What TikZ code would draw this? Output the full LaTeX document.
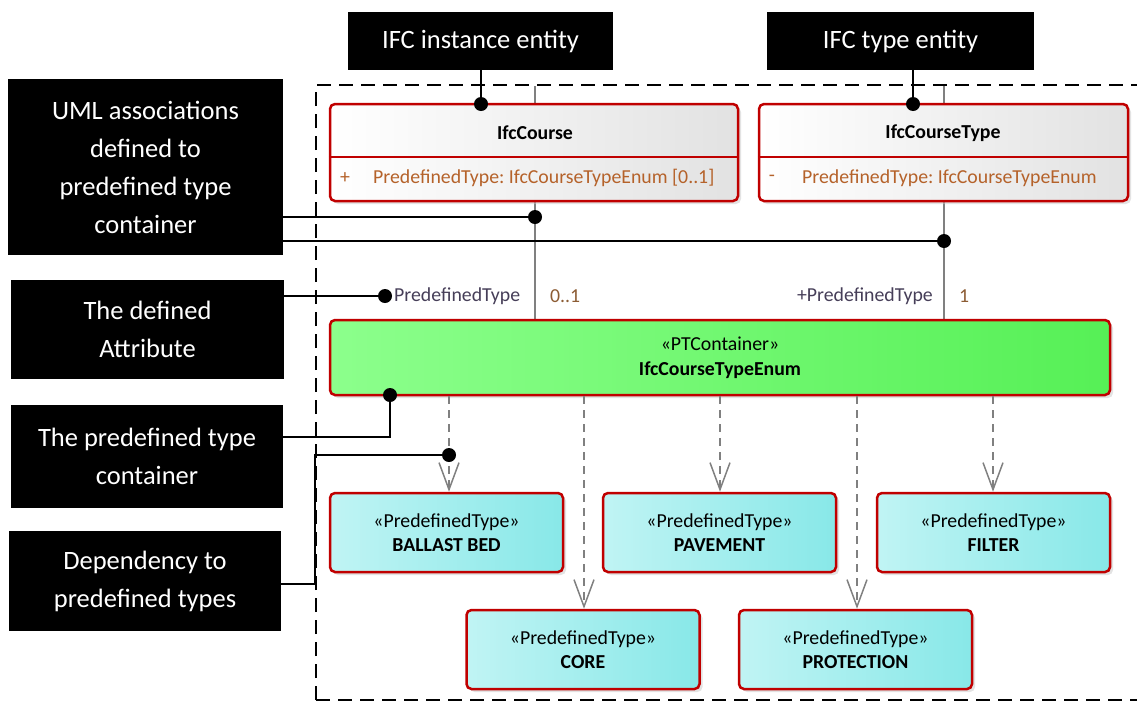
\documentclass[tikz,border=0pt]{standalone}
\usepackage{fontspec}
\setmainfont{Carlito}
\usetikzlibrary{arrows.meta,shadows,backgrounds}
\frenchspacing
\definecolor{brd}{RGB}{192,0,0}
\definecolor{clsR}{RGB}{226,226,226}
\definecolor{ptL}{RGB}{140,255,140}
\definecolor{ptR}{RGB}{86,240,86}
\definecolor{pdL}{RGB}{192,244,244}
\definecolor{pdR}{RGB}{136,232,232}
\definecolor{attrc}{RGB}{181,98,42}
\definecolor{rolec}{RGB}{70,62,88}
\definecolor{multc}{RGB}{140,92,52}
\definecolor{assocc}{RGB}{128,128,128}
\newcommand\mybigfont{\fontsize{26.5}{38}\selectfont}
\newcommand\myboxfont{\fontsize{19.8}{24.5}\selectfont}
\begin{document}
\frenchspacing
\begin{tikzpicture}[x=1pt,y=-1pt,
  umlbox/.style={draw=brd,line width=2.5pt,rounded corners=5pt,inner sep=0pt,
    drop shadow={shadow xshift=3pt,shadow yshift=-3pt,fill=black!22}},
  clsbox/.style={umlbox,left color=white,right color=clsR},
  ptbox/.style={umlbox,left color=ptL,right color=ptR,align=center,font=\myboxfont},
  pdbox/.style={umlbox,left color=pdL,right color=pdR,align=center,font=\myboxfont,
    minimum width=233,minimum height=79},
  callbox/.style={fill=black,text=white,align=center,font=\mybigfont,inner sep=0pt},
  txt/.style={inner sep=0pt,font=\myboxfont},
  assoc/.style={draw=assocc,line width=1.5pt},
  depline/.style={draw=assocc,line width=1.5pt,dash pattern=on 8pt off 6pt,
    -{Straight Barb[length=27pt,width=20pt,line width=1.5pt]}},
  callline/.style={draw=black,line width=2pt},
  frameline/.style={draw=black,line width=2pt,dash pattern=on 14pt off 8pt},
]
\useasboundingbox (0,0) rectangle (1137,702);

% dashed frame
\coordinate (fA) at (316,700);
\coordinate (fB) at (316,85);
\coordinate (fC) at (1140,85);
\coordinate (fD) at (1140,700);
\draw[frameline] (fA) -- (fB) -- (fC);
\draw[frameline] (fA) -- (fD);

% classes
\node[clsbox,minimum width=408,minimum height=97] (c1) at (534,152.5) {};
\node[clsbox,minimum width=369,minimum height=97] (c2) at (943.5,152.5) {};
\draw[draw=brd,line width=2.5pt] (c1.west |- 0,157) -- (c1.east |- 0,157);
\draw[draw=brd,line width=2.5pt] (c2.west |- 0,157) -- (c2.east |- 0,157);
\node[txt] (c1t) at (535,133) {\bfseries IfcCourse};
\node[txt,text=attrc] (c1v) at (345,178) {+};
\node[txt,text=attrc,anchor=west] (c1a) at (373,178) {PredefinedType: IfcCourseTypeEnum [0..1]};
\node[txt] (c2t) at (943,133) {\bfseries IfcCourseType};
\node[txt,text=attrc] (c2v) at (772,178) {-};
\node[txt,text=attrc,anchor=west] (c2a) at (802,178) {PredefinedType: IfcCourseTypeEnum};

% PT container
\node[ptbox,minimum width=780,minimum height=75] (pt) at (720,357.5)
  {«PTContainer»\\\textbf{IfcCourseTypeEnum}};

% predefined types
\node[pdbox] (bb) at (446.5,532.5) {«PredefinedType»\\\textbf{BALLAST BED}};
\node[pdbox] (pv) at (719.5,532.5) {«PredefinedType»\\\textbf{PAVEMENT}};
\node[pdbox] (fi) at (993.5,532.5) {«PredefinedType»\\\textbf{FILTER}};
\node[pdbox] (co) at (583,649.5) {«PredefinedType»\\\textbf{CORE}};
\node[pdbox] (pr) at (855.5,649.5) {«PredefinedType»\\\textbf{PROTECTION}};

% associations
\coordinate (a1) at (535,86);
\coordinate (a2) at (944,86);
\begin{scope}[on background layer]
\draw[assoc] (a1) -- (a1 |- pt.north);
\draw[assoc] (a2) -- (a2 |- pt.north);
\end{scope}
\node[txt,text=rolec,anchor=west] (r1) at (394,296) {PredefinedType};
\node[txt,text=multc,anchor=west] (m1) at (550,296) {0..1};
\node[txt,text=rolec,anchor=east] (r2) at (933,296) {+PredefinedType};
\node[txt,text=multc,anchor=west] (m2) at (959,296) {1};

% dependencies
\draw[depline] (pt.south -| 449,0) -- (bb.north -| 449,0);
\draw[depline] (pt.south -| 584,0) -- (co.north -| 584,0);
\draw[depline] (pt.south -| 720,0) -- (pv.north -| 720,0);
\draw[depline] (pt.south -| 857,0) -- (pr.north -| 857,0);
\draw[depline] (pt.south -| 993,0) -- (fi.north -| 993,0);

% callout boxes
\node[callbox,minimum width=265,minimum height=58] (inst) at (480.5,41) {IFC instance entity};
\node[callbox,minimum width=267,minimum height=58] (typ) at (900.5,41) {IFC type entity};
\node[callbox,minimum width=275,minimum height=176] (uml) at (145.5,167)
  {UML associations\\defined to\\predefined type\\container};
\node[callbox,minimum width=273,minimum height=99] (att) at (147.5,329.5) {The defined\\Attribute};
\node[callbox,minimum width=272,minimum height=103] (ptc) at (147,456.5) {The predefined type\\container};
\node[callbox,minimum width=272,minimum height=100] (dep) at (145,581) {Dependency to\\predefined types};

% callout lines and dots
\coordinate (d1) at (481,104);
\coordinate (d2) at (913,104);
\coordinate (d3) at (535,217);
\coordinate (d4) at (944,241);
\coordinate (d5) at (385,296);
\coordinate (d6) at (390,395);
\coordinate (d7) at (449,455);
\coordinate (k6) at (390,437);
\coordinate (k7a) at (315,584);
\coordinate (k7b) at (315,455);
\draw[callline] (inst.south -| d1) -- (d1);
\draw[callline] (typ.south -| d2) -- (d2);
\draw[callline] (uml.east |- d3) -- (d3);
\draw[callline] (uml.east |- d4) -- (d4);
\draw[callline] (att.east |- d5) -- (d5);
\draw[callline] (ptc.east |- k6) -- (k6) -- (d6);
\draw[callline] (dep.east |- k7a) -- (k7a) -- (k7b) -- (d7);
\foreach \d in {d1,d2,d3,d4,d5,d6,d7} \fill[black] (\d) circle (7pt);
\end{tikzpicture}
\end{document}
